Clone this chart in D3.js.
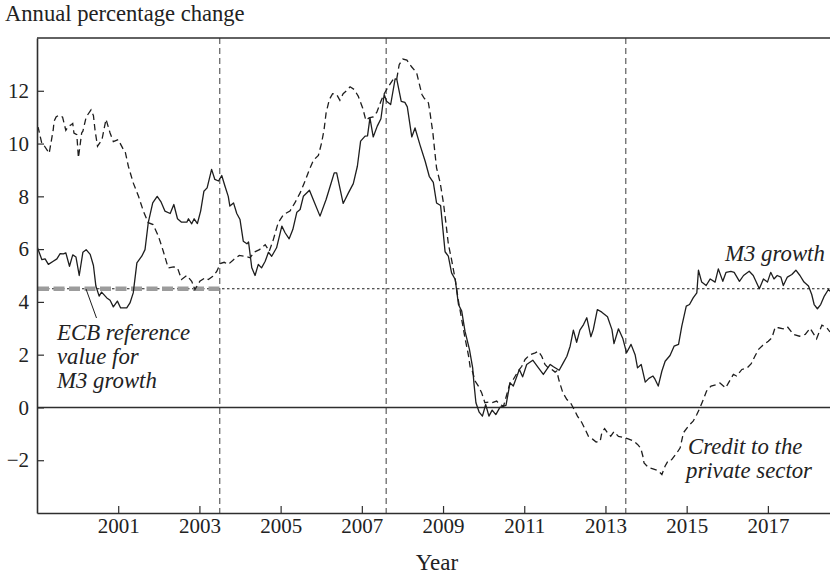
<!DOCTYPE html>
<html>
<head>
<meta charset="utf-8">
<script src="https://cdn.jsdelivr.net/npm/d3@7"></script>
<style>
  html, body { margin: 0; padding: 0; background: #fff; }
  svg { display: block; }
  text { font-family: "Liberation Serif", "DejaVu Serif", serif; fill: #222; }
</style>
</head>
<body>
<svg id="chart" width="830" height="575"></svg>
<script>
// ---- data (decimal year, annual % change) ----
const m3Growth = [
  [1999.00,6.10],[1999.12,5.60],[1999.20,5.63],[1999.28,5.42],[1999.40,5.54],[1999.49,5.63],
  [1999.57,5.83],[1999.65,5.82],[1999.71,5.86],[1999.80,5.35],[1999.88,5.78],[1999.96,5.70],
  [2000.04,5.00],[2000.13,5.88],[2000.21,5.98],[2000.31,5.80],[2000.39,5.38],[2000.45,4.60],
  [2000.53,4.22],[2000.59,4.37],[2000.72,4.15],[2000.80,4.06],[2000.88,3.81],[2000.98,4.03],
  [2001.06,3.77],[2001.21,3.77],[2001.29,3.96],[2001.37,4.34],[2001.46,5.48],[2001.58,5.73],
  [2001.66,5.98],[2001.74,7.00],[2001.85,7.75],[2001.96,8.00],[2002.05,7.80],[2002.15,7.44],
  [2002.28,7.35],[2002.37,7.69],[2002.46,7.15],[2002.56,7.02],[2002.69,7.02],[2002.73,7.15],
  [2002.81,6.96],[2002.87,7.15],[2002.95,6.97],[2003.03,7.44],[2003.11,8.19],[2003.19,8.32],
  [2003.30,9.02],[2003.38,8.64],[2003.47,8.58],[2003.55,8.79],[2003.63,8.38],[2003.71,8.00],
  [2003.75,7.63],[2003.84,7.75],[2003.92,7.35],[2004.00,7.12],[2004.08,6.30],[2004.17,6.20],
  [2004.21,6.27],[2004.29,5.29],[2004.37,5.00],[2004.45,5.42],[2004.53,5.29],[2004.62,5.54],
  [2004.70,5.88],[2004.78,5.73],[2004.90,6.05],[2005.03,6.87],[2005.11,6.62],[2005.21,6.39],
  [2005.30,6.74],[2005.40,7.40],[2005.48,7.50],[2005.56,8.00],[2005.71,8.23],[2005.81,7.85],
  [2005.97,7.25],[2006.12,7.88],[2006.22,8.38],[2006.32,8.89],[2006.38,8.89],[2006.54,7.73],
  [2006.67,8.13],[2006.79,8.48],[2006.89,9.14],[2006.97,10.09],[2007.08,10.28],[2007.14,10.29],
  [2007.20,10.97],[2007.28,10.25],[2007.38,10.66],[2007.47,10.94],[2007.55,11.86],[2007.61,11.60],
  [2007.71,11.48],[2007.82,12.45],[2007.86,12.44],[2007.97,11.60],[2008.06,11.56],[2008.12,11.39],
  [2008.23,10.25],[2008.31,10.59],[2008.43,9.96],[2008.56,9.33],[2008.66,8.76],[2008.76,8.53],
  [2008.84,7.75],[2008.94,7.65],[2009.05,5.90],[2009.13,5.73],[2009.21,5.10],[2009.30,4.85],
  [2009.38,3.90],[2009.46,3.65],[2009.54,2.89],[2009.65,2.20],[2009.73,1.50],[2009.76,0.93],
  [2009.81,0.18],[2009.89,-0.18],[2009.97,-0.33],[2010.05,0.11],[2010.13,-0.33],[2010.21,-0.10],
  [2010.30,-0.27],[2010.40,0.00],[2010.55,0.08],[2010.65,0.93],[2010.73,0.81],[2010.88,1.44],
  [2010.96,1.16],[2011.06,1.63],[2011.21,1.79],[2011.35,1.50],[2011.47,1.25],[2011.64,1.63],
  [2011.72,1.54],[2011.86,1.41],[2011.96,1.69],[2012.05,1.94],[2012.13,2.32],[2012.21,2.93],
  [2012.29,2.47],[2012.37,2.93],[2012.46,3.14],[2012.54,3.40],[2012.64,2.68],[2012.70,2.95],
  [2012.80,3.71],[2012.91,3.61],[2013.05,3.44],[2013.16,2.95],[2013.21,2.42],[2013.32,2.98],
  [2013.43,2.60],[2013.52,2.07],[2013.63,2.39],[2013.73,2.00],[2013.79,1.50],[2013.88,1.63],
  [2013.98,0.96],[2014.07,1.10],[2014.17,1.19],[2014.22,1.07],[2014.30,0.81],[2014.39,1.38],
  [2014.47,1.75],[2014.59,1.97],[2014.69,2.32],[2014.80,2.39],[2014.88,3.08],[2014.99,3.84],
  [2015.07,3.90],[2015.16,4.15],[2015.25,4.34],[2015.29,5.20],[2015.37,4.75],[2015.48,4.62],
  [2015.58,4.87],[2015.70,4.75],[2015.78,5.25],[2015.89,4.78],[2015.97,5.12],[2016.09,5.16],
  [2016.17,5.12],[2016.30,4.78],[2016.40,5.00],[2016.54,5.16],[2016.64,5.00],[2016.79,4.50],
  [2016.89,4.87],[2016.99,4.75],[2017.07,5.12],[2017.15,4.87],[2017.23,5.00],[2017.32,4.94],
  [2017.38,4.62],[2017.48,4.94],[2017.59,5.04],[2017.69,5.20],[2017.79,5.00],[2017.89,4.75],
  [2018.00,4.60],[2018.08,4.28],[2018.14,3.90],[2018.22,3.74],[2018.30,3.90],[2018.39,4.22],
  [2018.49,4.47],[2018.53,4.40]
];

const creditPrivate = [
  [1999.00,10.63],[1999.03,10.60],[1999.12,10.00],[1999.16,9.96],[1999.30,9.63],[1999.40,10.53],
  [1999.42,10.84],[1999.47,11.01],[1999.52,11.06],[1999.57,11.06],[1999.63,11.00],[1999.71,10.50],
  [1999.77,10.65],[1999.85,10.72],[1999.88,10.76],[1999.91,10.40],[1999.98,10.34],[2000.02,9.46],
  [2000.10,10.40],[2000.13,10.47],[2000.21,11.00],[2000.33,11.28],[2000.39,11.06],[2000.43,10.50],
  [2000.49,9.90],[2000.60,10.15],[2000.70,10.92],[2000.80,10.40],[2000.88,10.07],[2001.00,10.15],
  [2001.13,9.77],[2001.17,9.71],[2001.25,9.14],[2001.37,8.51],[2001.50,8.00],[2001.62,7.44],
  [2001.74,7.00],[2001.86,6.93],[2001.99,6.49],[2002.11,5.92],[2002.23,5.29],[2002.36,5.33],
  [2002.46,5.29],[2002.56,4.85],[2002.69,5.00],[2002.81,4.78],[2002.89,4.47],[2003.01,4.78],
  [2003.14,4.91],[2003.22,4.85],[2003.33,4.97],[2003.43,5.16],[2003.51,5.45],[2003.61,5.50],
  [2003.71,5.42],[2003.84,5.60],[2003.98,5.76],[2004.12,5.73],[2004.25,5.67],[2004.34,5.88],
  [2004.48,5.98],[2004.62,6.17],[2004.72,5.92],[2004.82,6.36],[2004.94,7.00],[2005.07,7.31],
  [2005.23,7.44],[2005.35,7.75],[2005.48,8.13],[2005.60,8.57],[2005.71,9.02],[2005.81,9.37],
  [2005.93,9.55],[2006.01,10.03],[2006.07,10.53],[2006.12,11.16],[2006.20,11.67],[2006.28,11.89],
  [2006.38,11.86],[2006.46,11.64],[2006.54,11.89],[2006.64,12.02],[2006.71,12.15],[2006.81,12.05],
  [2006.91,11.80],[2007.02,11.35],[2007.10,10.88],[2007.18,10.97],[2007.28,11.01],[2007.37,11.19],
  [2007.47,11.60],[2007.55,11.89],[2007.65,12.15],[2007.78,12.45],[2007.86,12.45],[2007.92,12.99],
  [2008.01,13.20],[2008.11,13.16],[2008.23,12.90],[2008.35,12.68],[2008.42,12.23],[2008.48,11.86],
  [2008.53,11.73],[2008.64,11.54],[2008.68,11.16],[2008.75,10.40],[2008.80,9.65],[2008.84,9.08],
  [2008.93,8.51],[2009.01,7.75],[2009.07,7.00],[2009.13,6.20],[2009.21,5.60],[2009.30,4.85],
  [2009.38,4.03],[2009.46,3.33],[2009.54,2.64],[2009.63,1.94],[2009.67,1.50],[2009.71,1.44],
  [2009.79,1.00],[2009.87,0.81],[2009.95,0.56],[2010.03,0.18],[2010.12,0.20],[2010.20,0.18],
  [2010.32,0.24],[2010.40,0.11],[2010.49,0.05],[2010.57,0.49],[2010.65,0.93],[2010.73,1.06],
  [2010.85,1.38],[2010.94,1.56],[2011.02,1.82],[2011.14,2.00],[2011.27,2.07],[2011.35,2.13],
  [2011.43,1.94],[2011.51,1.63],[2011.59,1.50],[2011.68,1.44],[2011.76,1.34],[2011.80,1.38],
  [2011.86,1.00],[2011.95,0.56],[2012.05,0.30],[2012.14,0.18],[2012.23,-0.08],[2012.31,-0.33],
  [2012.42,-0.58],[2012.50,-0.83],[2012.58,-1.09],[2012.69,-1.21],[2012.77,-1.31],[2012.87,-1.28],
  [2012.91,-0.96],[2012.98,-0.80],[2013.05,-0.96],[2013.13,-1.09],[2013.21,-0.92],[2013.32,-1.10],
  [2013.43,-1.13],[2013.56,-1.19],[2013.69,-1.27],[2013.79,-1.40],[2013.87,-1.55],[2013.92,-1.84],
  [2013.95,-2.10],[2014.06,-2.28],[2014.17,-2.33],[2014.30,-2.40],[2014.39,-2.54],[2014.47,-2.22],
  [2014.55,-2.00],[2014.63,-1.98],[2014.76,-1.72],[2014.84,-1.53],[2014.92,-0.96],[2015.04,-0.71],
  [2015.16,-0.52],[2015.25,-0.27],[2015.33,0.00],[2015.41,0.30],[2015.49,0.62],[2015.60,0.81],
  [2015.74,0.87],[2015.82,0.93],[2015.96,0.74],[2016.03,0.93],[2016.15,1.25],[2016.23,1.19],
  [2016.36,1.44],[2016.49,1.50],[2016.59,1.66],[2016.68,1.94],[2016.77,2.20],[2016.87,2.35],
  [2017.01,2.51],[2017.10,2.64],[2017.18,3.04],[2017.26,3.02],[2017.38,2.98],[2017.48,3.06],
  [2017.63,2.77],[2017.78,2.70],[2017.92,2.77],[2018.04,3.00],[2018.20,2.60],[2018.33,3.12],
  [2018.45,3.02],[2018.53,2.86]
];

const yearTicks = [2001, 2003, 2005, 2007, 2009, 2011, 2013, 2015, 2017];
const valueTicks = [-2, 0, 2, 4, 6, 8, 10, 12];
const eventYears = [2003.5, 2007.6, 2013.5];
const referenceValue = 4.5;
const referenceEnd = 2003.5;
const yLabel = "Annual percentage change";
const xLabel = "Year";
const ecbNote = ["ECB reference", "value for", "M3 growth"];
const m3Label = "M3 growth";
const creditNote = ["Credit to the", "private sector"];

// ---- layout ----
const svg = d3.select("#chart");
const L = 37, R = 830, T = 38, B = 513;
const x = d3.scaleLinear().domain([1999.0, 2018.53]).range([L, R]);
const y = d3.scaleLinear().domain([-4, 14]).range([B, T]);
const ink = "#1e1e1e";
const axisCol = "#2e2e2e";

svg.append("defs").append("clipPath").attr("id", "plot")
  .append("rect").attr("x", L).attr("y", T).attr("width", R - L).attr("height", B - T);

// vertical event lines
svg.append("g").selectAll("line").data(eventYears).join("line")
  .attr("x1", d => x(d)).attr("x2", d => x(d))
  .attr("y1", T).attr("y2", B)
  .attr("stroke", "#6a6a6a").attr("stroke-width", 1.3)
  .attr("stroke-dasharray", "6,4");

// reference value: fine dotted line across, thick grey dashes until 2003.5
svg.append("line")
  .attr("x1", x(1999.0)).attr("x2", R)
  .attr("y1", y(referenceValue)).attr("y2", y(referenceValue))
  .attr("stroke", ink).attr("stroke-width", 1.1).attr("stroke-dasharray", "2.5,2.5");
svg.append("line")
  .attr("x1", x(1999.0) + 1).attr("x2", x(referenceEnd))
  .attr("y1", y(referenceValue)).attr("y2", y(referenceValue))
  .attr("stroke", "#9c9c9c").attr("stroke-width", 4.5).attr("stroke-dasharray", "11,4.5");

// zero line
svg.append("line")
  .attr("x1", L).attr("x2", R).attr("y1", y(0)).attr("y2", y(0))
  .attr("stroke", axisCol).attr("stroke-width", 1.4);

const line = d3.line().x(d => x(d[0])).y(d => y(d[1]));
const g = svg.append("g").attr("clip-path", "url(#plot)");
g.append("path").datum(creditPrivate).attr("d", line)
  .attr("fill", "none").attr("stroke", ink).attr("stroke-width", 1.3)
  .attr("stroke-dasharray", "6.5,4");
g.append("path").datum(m3Growth).attr("d", line)
  .attr("fill", "none").attr("stroke", ink).attr("stroke-width", 1.3)
  .attr("stroke-linejoin", "round");

// axes
const fs = 21;
const yAxis = d3.axisLeft(y).tickValues(valueTicks)
  .tickFormat(d => d < 0 ? "\u2212" + Math.abs(d) : d)
  .tickSize(-7).tickSizeOuter(0).tickPadding(8);
const ya = svg.append("g").attr("transform", `translate(${L},0)`).call(yAxis);
const xAxis = d3.axisBottom(x).tickValues(yearTicks).tickFormat(d3.format("d"))
  .tickSize(-7).tickSizeOuter(0).tickPadding(5);
const xa = svg.append("g").attr("transform", `translate(0,${B})`).call(xAxis);
[ya, xa].forEach(a => {
  a.selectAll("path.domain").attr("stroke", axisCol).attr("stroke-width", 1.6);
  a.selectAll(".tick line").attr("stroke", axisCol).attr("stroke-width", 1.2);
  a.selectAll(".tick text").attr("font-size", fs)
    .attr("font-family", '"Liberation Serif", serif').attr("fill", ink);
});
// top border
svg.append("line").attr("x1", L).attr("x2", R).attr("y1", T).attr("y2", T)
  .attr("stroke", axisCol).attr("stroke-width", 1.6);

// titles
svg.append("text").attr("x", 5).attr("y", 21).attr("font-size", 22.6).text(yLabel);
svg.append("text").attr("x", 437).attr("y", 570).attr("text-anchor", "middle")
  .attr("font-size", 23).text(xLabel);

// annotations
const ann = svg.append("g").attr("font-style", "italic").attr("font-size", 22.8);
ann.selectAll("text.ecb").data(ecbNote).join("text")
  .attr("x", 57).attr("y", (d, i) => 340 + i * 24).text(d => d);
svg.append("line").attr("x1", 86).attr("y1", 289).attr("x2", 96.5).attr("y2", 318)
  .attr("stroke", ink).attr("stroke-width", 1);
ann.append("text").attr("x", 725).attr("y", 261).text(m3Label);
ann.selectAll("text.cr").data(creditNote).join("text")
  .attr("x", (d, i) => i === 0 ? 688 : 686).attr("y", (d, i) => 454 + i * 24).text(d => d);
</script>
</body>
</html>
